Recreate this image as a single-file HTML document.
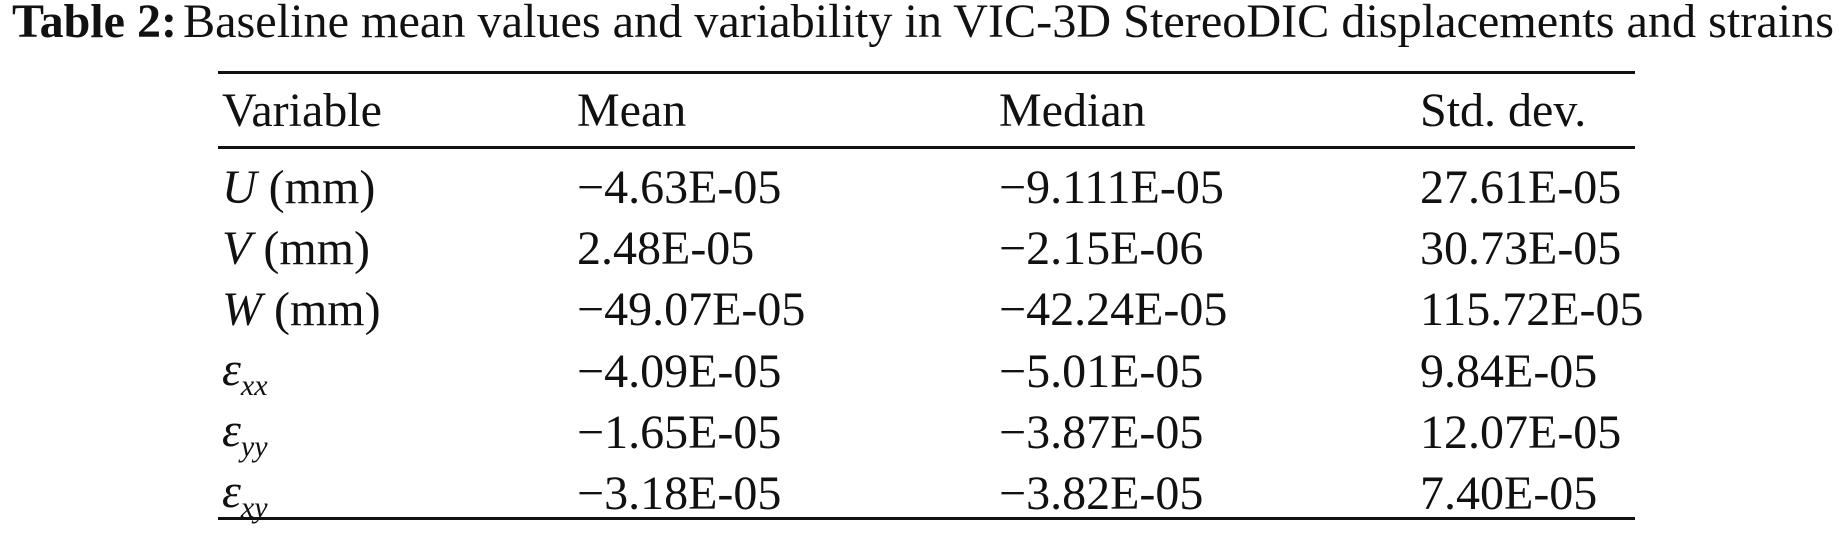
<!DOCTYPE html>
<html><head><meta charset="utf-8"><style>
html,body{margin:0;padding:0;background:#fff;}
svg{display:block;}
text{font-family:"Liberation Serif",serif;font-size:48px;fill:#111;}
</style></head><body>
<svg width="1842" height="533" viewBox="0 0 1842 533">
<g>
<text x="12" y="37" font-weight="bold">Table 2:</text>
<text x="183" y="37" textLength="1651" lengthAdjust="spacingAndGlyphs">Baseline mean values and variability in VIC-3D StereoDIC displacements and strains</text>
</g>
<rect x="218" y="71" width="1417" height="3" fill="#111"/>
<rect x="218" y="146" width="1417" height="3" fill="#111"/>
<rect x="218" y="517" width="1417" height="3" fill="#111"/>
<g>
<text x="222" y="126">Variable</text>
<text x="577" y="126">Mean</text>
<text x="999" y="126">Median</text>
<text x="1420" y="126">Std. dev.</text>
</g>
<g>
<text x="222" y="203"><tspan font-style="italic">U</tspan> (mm)</text>
<text x="577" y="203">−4.63E-05</text>
<text x="999" y="203">−9.111E-05</text>
<text x="1420" y="203">27.61E-05</text>
</g>
<g>
<text x="222" y="264"><tspan font-style="italic">V</tspan> (mm)</text>
<text x="577" y="264">2.48E-05</text>
<text x="999" y="264">−2.15E-06</text>
<text x="1420" y="264">30.73E-05</text>
</g>
<g>
<text x="222" y="325"><tspan font-style="italic">W</tspan> (mm)</text>
<text x="577" y="325">−49.07E-05</text>
<text x="999" y="325">−42.24E-05</text>
<text x="1420" y="325">115.72E-05</text>
</g>
<g>
<text x="222" y="385"><tspan font-style="italic">ε</tspan><tspan font-style="italic" font-size="30" dy="10">xx</tspan></text>
<text x="577" y="387">−4.09E-05</text>
<text x="999" y="387">−5.01E-05</text>
<text x="1420" y="387">9.84E-05</text>
</g>
<g>
<text x="222" y="446"><tspan font-style="italic">ε</tspan><tspan font-style="italic" font-size="30" dy="10">yy</tspan></text>
<text x="577" y="448">−1.65E-05</text>
<text x="999" y="448">−3.87E-05</text>
<text x="1420" y="448">12.07E-05</text>
</g>
<g>
<text x="222" y="507"><tspan font-style="italic">ε</tspan><tspan font-style="italic" font-size="30" dy="10">xy</tspan></text>
<text x="577" y="509">−3.18E-05</text>
<text x="999" y="509">−3.82E-05</text>
<text x="1420" y="509">7.40E-05</text>
</g>
</svg>
</body></html>
